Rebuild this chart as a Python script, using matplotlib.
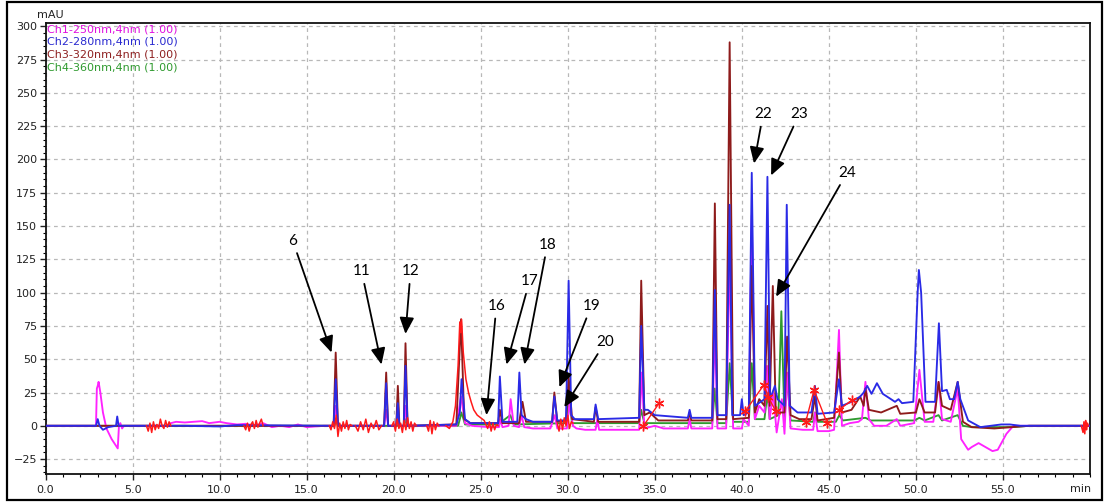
import numpy as np
from matplotlib import pyplot as plt
from matplotlib.patches import Rectangle

# chromatogram traces as (time min, mAU) vertices
ch1 = [(0, 0), (2.9, 0), (2.95, 28), (3.0, 30), (3.05, 33), (3.15, 25), (3.3, 10),
       (3.5, -2), (3.8, -10), (4.15, -17), (4.22, 0), (4.3, 2), (4.4, -2), (4.5, 0),
       (7.0, 0), (7.2, 2), (7.5, 3), (8.0, 2.5), (8.5, 3), (9.0, 3.5), (9.4, 2),
       (10.0, 3), (10.4, 2), (11.0, 1), (11.5, 1.5), (12.0, 0), (12.5, 2), (13.0, -1),
       (13.5, 0), (14.0, -1), (14.5, 1), (15.0, -1), (16.0, 0), (16.55, 0), (16.67, 15),
       (16.8, 0), (19.45, 0), (19.57, 12), (19.68, 0), (20.15, 0), (20.24, 8), (20.33, 0),
       (20.6, 0), (20.68, 15), (20.8, 0), (23.6, 0), (23.87, 22), (24.1, 2), (24.5, 0),
       (25.5, -1), (26.05, -1), (26.12, 5), (26.25, -1), (26.6, 0), (26.72, 20), (26.9, 0),
       (27.2, -1), (27.35, 8), (27.5, -1), (28.0, -2), (29.0, -2), (29.25, 8), (29.4, -2),
       (29.95, -2), (30.1, 17), (30.3, 0), (30.5, -2), (31.0, -3), (31.6, -3), (31.7, 5),
       (31.8, -3), (33.0, -3), (34.1, -3), (34.25, 40), (34.4, -2), (35.0, 0), (35.5, -2),
       (36.9, -2), (37.0, 5), (37.1, -2), (38.3, -2), (38.45, 75), (38.6, -2), (39.1, -2),
       (39.3, 127), (39.5, -2), (40.0, -2), (40.1, 5), (40.4, 0), (40.57, 158), (40.75, 5),
       (41.0, 15), (41.3, 10), (41.45, 45), (41.6, 5), (41.8, 25), (42.0, -5), (42.3, 20),
       (42.45, -6), (42.6, 40), (42.8, -2), (43.5, -3), (44.1, -3), (44.2, 10), (44.35, -4),
       (45.0, -4), (45.3, -3), (45.58, 72), (45.75, 0), (46.2, 2), (46.7, 3), (46.9, 5),
       (47.1, 33), (47.3, 5), (47.6, 0), (48.3, 0), (48.9, 5), (49.1, 0), (49.9, 2),
       (50.2, 42), (50.5, 3), (51.0, 3), (51.3, 33), (51.5, 5), (52.0, 3), (52.4, 28),
       (52.6, -10), (53.0, -18), (53.2, -16), (53.6, -13), (54.0, -16), (54.4, -19),
       (54.7, -18), (55.2, -6), (55.6, 0), (60, 0)]

ch2 = [(0, 0), (2.9, 0), (3.0, 5), (3.1, 0), (3.3, -3), (3.6, -1), (4.05, 0), (4.12, 7),
       (4.2, 0), (8.0, 0), (10.0, -0.5), (11.0, 0.5), (16.55, 0), (16.67, 35), (16.8, 0),
       (19.45, 0), (19.57, 32), (19.68, 0), (20.15, 0), (20.24, 17), (20.33, 0), (20.58, 0),
       (20.68, 45), (20.8, 0), (23.6, 1), (23.8, 10), (23.9, 35), (24.1, 5), (24.4, 2),
       (26.0, 2), (26.1, 37), (26.25, 3), (27.1, 3), (27.22, 40), (27.35, 8), (27.6, 5),
       (28.0, 3), (29.1, 3), (29.23, 22), (29.4, 4), (29.9, 4), (30.05, 109), (30.2, 8),
       (30.4, 5), (31.5, 5), (31.6, 16), (31.75, 5), (34.1, 6), (34.22, 75), (34.4, 12),
       (34.6, 12), (35.0, 8), (36.9, 6), (37.0, 12), (37.1, 6), (38.3, 6), (38.45, 102),
       (38.6, 8), (39.1, 8), (39.3, 166), (39.45, 8), (39.9, 8), (40.0, 20), (40.1, 8),
       (40.4, 10), (40.57, 190), (40.75, 15), (41.3, 20), (41.47, 187), (41.62, 20),
       (41.9, 30), (42.05, 20), (42.45, 15), (42.58, 166), (42.75, 15), (43.2, 10),
       (44.0, 10), (44.2, 30), (44.35, 9), (45.3, 10), (45.58, 35), (45.75, 15), (46.3, 18),
       (46.8, 22), (47.0, 25), (47.2, 30), (47.45, 24), (47.76, 32), (48.1, 24), (48.8, 18),
       (49.0, 20), (49.2, 17), (49.85, 18), (50.1, 100), (50.17, 117), (50.3, 100),
       (50.55, 18), (51.1, 18), (51.32, 77), (51.5, 26), (51.77, 27), (51.95, 20),
       (52.2, 20), (52.4, 33), (52.55, 20), (53.0, 4), (53.7, -1), (54.9, 1), (55.4, 1),
       (56.0, 0), (60, 0)]

ch3 = [(0, 0), (16.55, 0), (16.67, 55), (16.8, 0), (19.45, 0), (19.57, 40), (19.68, 0),
       (20.15, 0), (20.24, 30), (20.33, 0), (20.58, 0), (20.68, 62), (20.8, 0), (23.6, 1),
       (23.87, 80), (24.05, 5), (24.4, 2), (26.0, 2), (26.1, 12), (26.25, 2), (27.2, 2),
       (27.4, 18), (27.6, 3), (29.1, 3), (29.23, 25), (29.4, 3), (29.9, 4), (30.05, 37),
       (30.25, 5), (31.5, 3), (31.6, 14), (31.75, 3), (34.1, 3), (34.22, 109), (34.4, 8),
       (34.7, 10), (35.2, 4), (36.9, 4), (37.0, 10), (37.1, 4), (38.3, 4), (38.45, 167),
       (38.6, 5), (39.1, 5), (39.3, 288), (39.5, 5), (40.4, 6), (40.57, 120), (40.75, 10),
       (41.0, 20), (41.3, 15), (41.47, 90), (41.6, 15), (41.78, 105), (41.95, 10),
       (42.45, 10), (42.6, 67), (42.8, 8), (43.3, 5), (44.0, 5), (44.2, 22), (44.35, 4),
       (45.3, 6), (45.58, 55), (45.75, 10), (46.3, 12), (46.8, 22), (47.0, 15), (47.1, 28),
       (47.3, 12), (48.0, 10), (48.9, 15), (49.1, 9), (50.0, 10), (50.2, 20), (50.5, 10),
       (51.1, 10), (51.3, 33), (51.5, 15), (52.0, 12), (52.4, 33), (52.7, 3), (53.2, -1),
       (54.5, -2), (55.5, -1), (56.5, 0), (60, 0)]

ch4 = [(0, 0), (16.6, 0), (16.68, 5), (16.8, 0), (20.6, 0), (20.68, 5), (20.8, 0),
       (23.7, 0), (23.9, 10), (24.1, 1), (26.0, 1), (26.7, 8), (26.9, 1), (29.9, 2),
       (30.05, 20), (30.25, 2), (34.1, 2), (34.22, 12), (34.4, 2), (38.3, 2), (38.45, 28),
       (38.6, 2), (39.1, 2), (39.3, 47), (39.5, 3), (40.4, 3), (40.57, 47), (40.75, 5),
       (41.3, 5), (41.47, 25), (41.6, 5), (42.1, 8), (42.27, 86), (42.45, 5), (42.6, 35),
       (42.8, 4), (44.1, 3), (44.2, 10), (44.35, 3), (45.4, 3), (45.6, 8), (45.8, 4),
       (47.1, 6), (47.4, 4), (49.9, 4), (50.2, 6), (50.5, 4), (51.3, 8), (51.5, 4),
       (52.4, 8), (52.7, 0), (53.2, -1), (55.5, -1), (56.5, 0), (60, 0)]

# red integration marks (noisy bits), nan splits the pieces
red_t = [5.8, 5.9, 6.0, 6.1, 6.2, 6.3, 6.4, 6.5, 6.6, 6.7, 6.8, 6.9, 7.0, 7.1, 7.2, np.nan,
         11.4, 11.5, 11.6, 11.7, 11.8, 11.9, 12.0, 12.1, 12.2, 12.3, 12.4, 12.5, np.nan,
         16.3, 16.4, 16.5, 16.6, 16.7, 16.8, 16.9, 17.0, 17.1, 17.2, 17.3, 17.4, 17.5, 17.6,
         np.nan,
         17.8, 17.95, 18.1, 18.25, 18.4, 18.55, 18.7, 18.85, 19.0, 19.15, 19.3, np.nan,
         19.9, 20.0, 20.1, 20.2, 20.3, 20.4, 20.5, 20.6, 20.7, 20.8, 20.9, 21.0, 21.1, 21.2,
         21.3, np.nan,
         21.9, 22.0, 22.1, 22.2, 22.3, 22.4, 22.5, 22.6, np.nan,
         23.0, 23.2, 23.4, 23.55, 23.7, 23.8, 23.85, 23.9, 24.0, 24.15, 24.3, 24.45, 24.6,
         24.8, 25.0, 25.2, 25.4, 25.5, 25.6, 25.7, 25.8, 25.9, 26.0, np.nan,
         29.4, 29.5, 29.6, 29.7, 29.8, 29.9, 30.0, 30.1, 30.2, 30.3, np.nan,
         59.5, 59.6, 59.65, 59.7, 59.75, 59.8, 59.85, 59.9]
red_y = [0, -4, 2, -5, 3, -3, 1, -2, 5, 0, -2, 4, -1, 3, 0, np.nan,
         0, -3, 2, -4, 1, 3, -2, 4, -1, 2, 5, 0, np.nan,
         0, -3, 3, -2, 8, -8, 2, -4, 3, -2, 4, -3, 1, 0, np.nan,
         0, -4, 3, -3, 5, -5, 2, -2, 4, -3, 0, np.nan,
         0, 3, -4, 5, -2, 2, -5, 4, -3, 6, -2, 3, -4, 2, 0, np.nan,
         0, -4, 4, -6, 3, -3, 2, 0, np.nan,
         0, -2, 3, 15, 45, 78, 70, 80, 55, 35, 25, 18, 12,
         8, 6, 4, -2, 3, -4, 2, -3, 1, 0, np.nan,
         2, -4, 5, -3, 6, 0, 8, -2, 3, 2, np.nan,
         0, -5, 3, -6, 4, -3, 2, 0]

star_t = [34.35, 35.25, np.nan, 40.2, 41.28, 41.5, 41.95, np.nan,
          43.67, 44.15, 44.9, np.nan, 45.58, 46.3]
star_y = [0, 17, np.nan, 11, 31, 22, 11, np.nan, 3, 27, 2, np.nan, 12, 19]

legend_labels = ["Ch1-250nm,4nm (1.00)", "Ch2-280nm,4nm (1.00)",
                 "Ch3-320nm,4nm (1.00)", "Ch4-360nm,4nm (1.00)"]

# peak labels: (label, text position, arrow tip) in data units
peak_labels = ["6", "11", "12", "16", "17", "18", "19", "20", "22", "23", "24"]
label_xy = [(14.2, 139), (18.16, 116), (20.97, 116), (25.9, 90), (27.8, 108.5),
            (28.83, 136), (31.35, 90), (32.16, 63), (41.22, 234), (43.29, 234),
            (46.04, 190)]
tip_xy = [(16.43, 55), (19.3, 46), (20.68, 69), (25.33, 8), (26.48, 46), (27.51, 46),
          (29.52, 29), (29.8, 14), (40.7, 197), (41.68, 188), (41.97, 97)]

col_mag = '#ff22ff'
col_blue = '#2a2ae6'
col_dred = '#8e1b1b'
col_green = '#2f9a2f'
col_red = '#ff1a1a'
text_cols = ['#e010e0', '#2a2ad0', '#8e2020', '#2f9a2f']

fig = plt.figure(figsize=(11.05, 5.04), dpi=100)
ax = fig.add_axes([45.5/1105, 1 - 474/504, (1090 - 45.5)/1105, (474 - 23)/504])

for data, c, z in [(ch4, col_green, 2), (ch1, col_mag, 3), (ch3, col_dred, 4),
                   (ch2, col_blue, 5)]:
    arr = np.array(data, dtype=float)
    ax.plot(arr[:, 0], arr[:, 1], c=c, lw=1.35, zorder=z)

ax.plot(red_t, red_y, c=col_red, lw=1.1, zorder=6)
ax.plot(star_t, star_y, c=col_red, lw=1.0, marker=(6, 2, 0), ms=7, mew=1.0, zorder=6)

ax.set_xlim(0, 60)
ax.set_ylim(-36.2, 302.5)

ax.set_xticks(np.arange(0, 56, 5))
ax.set_xticklabels(["%.1f" % v for v in np.arange(0, 56, 5)])
ax.set_xticks(np.arange(0, 61, 1), minor=True)
ax.set_yticks(np.arange(-25, 301, 25))
ax.set_yticks(np.arange(-35, 301, 5), minor=True)

ax.grid(True, which='major', color='#b8b8b8', ls=(0, (3, 3)), lw=0.9)
ax.set_axisbelow(True)
ax.tick_params(which='major', length=4, width=1, labelsize=8, colors='#222222', pad=2)
ax.tick_params(which='minor', length=2.5, width=0.8)
ax.tick_params(axis='x', which='major', pad=4)
for s in ax.spines.values():
    s.set_linewidth(1.3)
    s.set_color('#111111')

for lab, txt, tip in zip(peak_labels, label_xy, tip_xy):
    ax.annotate(lab, xy=tip, xytext=txt, ha='center', va='center', fontsize=11,
                family='Lato', zorder=8,
                arrowprops=dict(arrowstyle='-|>,head_length=0.9,head_width=0.4',
                                color='black', lw=1.3, shrinkA=2, shrinkB=0))

for i, (lab, c) in enumerate(zip(legend_labels, text_cols)):
    fig.text(47/1105, 1 - (29 + 12.7*i)/504, lab, color=c, fontsize=8, va='center',
             ha='left')

fig.text(50/1105, 1 - 15/504, "mAU", fontsize=8, ha='center', va='center', color='#222222')
fig.text(1081/1105, 1 - 489/504, "min", fontsize=8, ha='center', va='center', color='#222222')

fig.patches.append(Rectangle((7/1105, 1 - 500/504), 1095/1105, 498/504,
                             transform=fig.transFigure, fill=False, ec='black', lw=1.6))

plt.savefig("out.png", dpi=100)
plt.close()
